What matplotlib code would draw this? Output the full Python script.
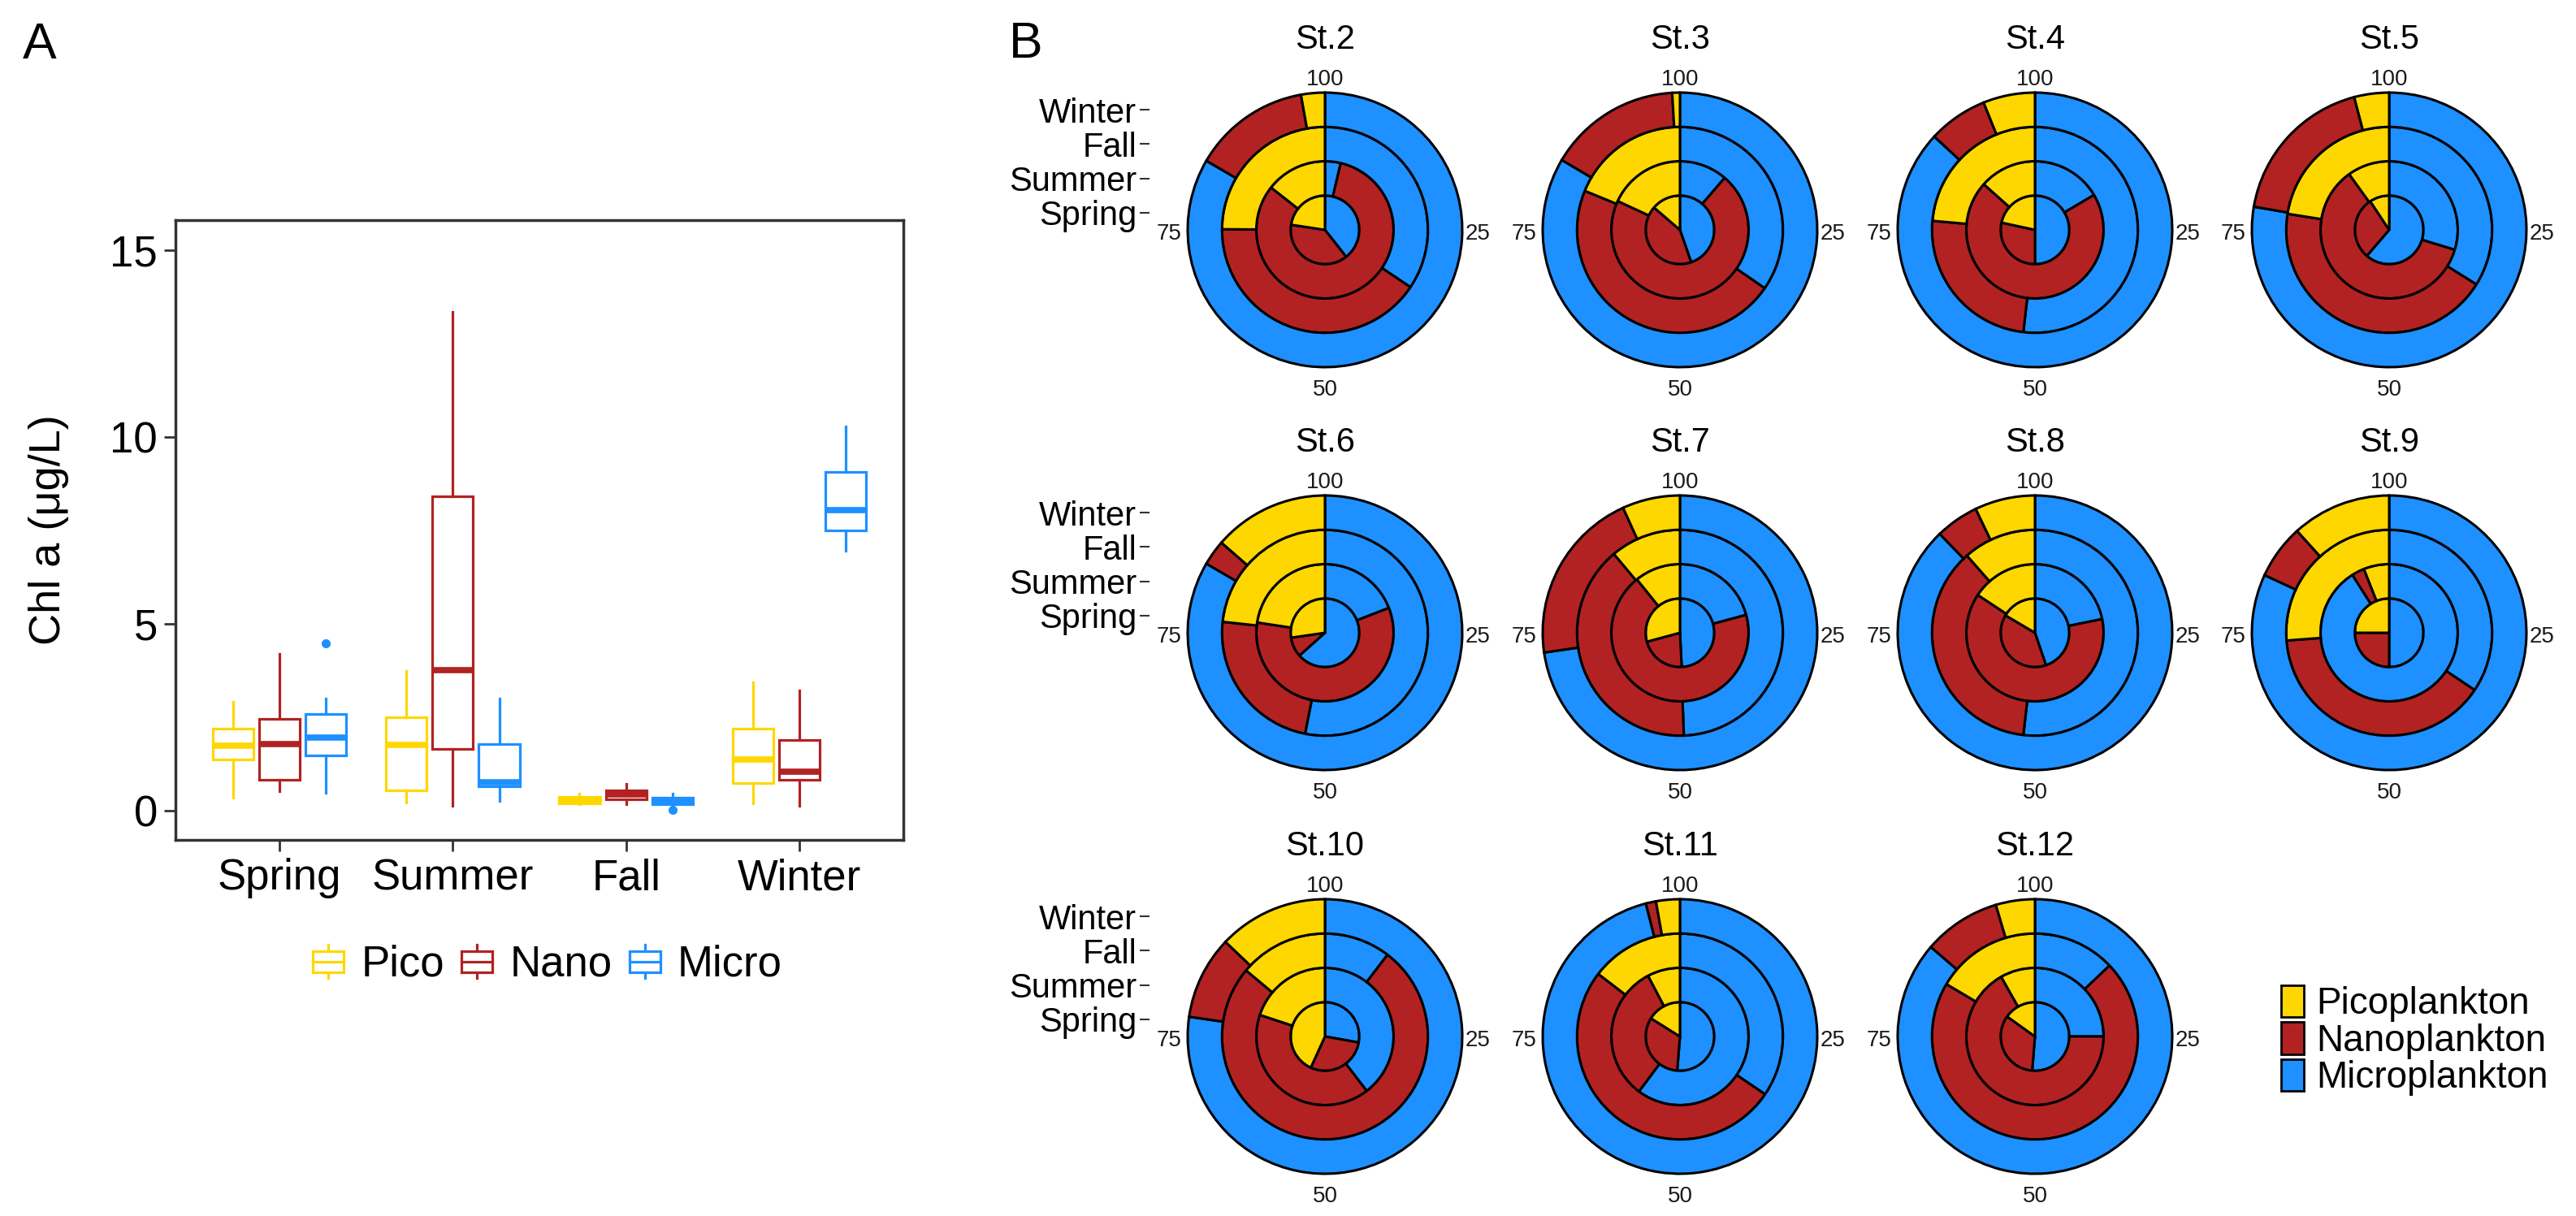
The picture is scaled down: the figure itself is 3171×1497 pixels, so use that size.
import matplotlib
matplotlib.use("Agg")
import matplotlib.pyplot as plt
from matplotlib.patches import Patch, Rectangle
from matplotlib.lines import Line2D
from matplotlib.legend_handler import HandlerBase

plt.rcParams['font.family'] = ['Liberation Sans', 'DejaVu Sans']

# ---------------- data: panel A (box statistics, Chl a ug/L) ----------------
box_seasons = ["Spring", "Summer", "Fall", "Winter"]
box_groups = ["Pico", "Nano", "Micro"]

pico_whislo = [0.36, 0.22, 0.18, 0.20]
pico_q1     = [1.38, 0.55, 0.20, 0.75]
pico_med    = [1.74, 1.77, 0.27, 1.38]
pico_q3     = [2.20, 2.51, 0.38, 2.20]
pico_whishi = [2.91, 3.75, 0.45, 3.44]
pico_fliers = [[], [], [], []]

nano_whislo = [0.53, 0.14, 0.18, 0.14]
nano_q1     = [0.82, 1.66, 0.31, 0.82]
nano_med    = [1.79, 3.77, 0.44, 1.05]
nano_q3     = [2.45, 8.41, 0.55, 1.90]
nano_whishi = [4.19, 13.35, 0.73, 3.22]
nano_fliers = [[], [], [], []]

micro_whislo = [0.47, 0.27, 0.08, 6.95]
micro_q1     = [1.48, 0.66, 0.18, 7.50]
micro_med    = [1.96, 0.77, 0.25, 8.04]
micro_q3     = [2.59, 1.79, 0.34, 9.06]
micro_whishi = [3.00, 3.00, 0.45, 10.28]
micro_fliers = [[4.48], [], [0.02], []]

# ---------------- data: panel B (% of Chl a per size class) ----------------
stations = ["St.2", "St.3", "St.4", "St.5", "St.6", "St.7", "St.8", "St.9",
            "St.10", "St.11", "St.12"]
ring_seasons = ["Spring", "Summer", "Fall", "Winter"]   # inner -> outer
# each row: [Spring, Summer, Fall, Winter]
micro_pct = [
    [39.4, 3.7, 34.4, 83.4],
    [44.7, 11.3, 34.6, 83.5],
    [50.0, 16.5, 51.8, 86.9],
    [61.3, 29.7, 33.9, 77.7],
    [63.4, 19.1, 53.1, 83.4],
    [49.2, 20.8, 49.4, 72.7],
    [44.8, 21.8, 51.8, 87.8],
    [50.0, 91.0, 34.4, 81.9],
    [27.8, 39.6, 10.4, 77.3],
    [51.3, 60.2, 34.5, 96.0],
    [51.3, 25.0, 12.9, 86.3],
]
nano_pct = [
    [38.0, 81.9, 40.7, 13.8],
    [41.6, 70.6, 46.6, 15.6],
    [28.4, 70.1, 24.6, 7.0],
    [29.4, 60.4, 43.6, 18.2],
    [9.3, 58.3, 23.6, 3.0],
    [21.6, 68.4, 39.5, 20.5],
    [38.7, 62.5, 36.7, 5.1],
    [25.0, 3.0, 39.4, 6.4],
    [29.0, 40.5, 75.7, 9.8],
    [32.6, 32.1, 50.9, 1.2],
    [33.6, 66.8, 70.6, 9.1],
]
pico_pct = [
    [22.6, 14.4, 24.9, 2.8],
    [13.7, 18.1, 18.8, 0.9],
    [21.6, 13.4, 23.6, 6.1],
    [9.3, 9.9, 22.5, 4.1],
    [27.3, 22.6, 23.3, 13.6],
    [29.2, 10.8, 11.1, 6.8],
    [16.5, 15.7, 11.5, 7.1],
    [25.0, 6.0, 26.2, 11.7],
    [43.2, 19.9, 13.9, 12.9],
    [16.1, 7.7, 14.6, 2.8],
    [15.1, 8.2, 16.5, 4.6],
]
theta_labels = ["100", "25", "50", "75"]
legend_labels = ["Picoplankton", "Nanoplankton", "Microplankton"]

# ---------------- style ----------------
C_PICO = "#FFD700"
C_NANO = "#B22222"
C_MICRO = "#1E90FF"
FW, FH = 3171, 1497

fig = plt.figure(figsize=(FW / 100, FH / 100), dpi=100)

# ================= Panel A =================
axA = fig.add_axes([216 / FW, 1 - 1034 / FH, (1112 - 216) / FW, (1034 - 271) / FH])
group_data = [
    (C_PICO, pico_whislo, pico_q1, pico_med, pico_q3, pico_whishi, pico_fliers),
    (C_NANO, nano_whislo, nano_q1, nano_med, nano_q3, nano_whishi, nano_fliers),
    (C_MICRO, micro_whislo, micro_q1, micro_med, micro_q3, micro_whishi, micro_fliers),
]
offsets = [-0.268, 0.0, 0.268]
for gi, (col, wl, q1, med, q3, wh, fl) in enumerate(group_data):
    stats = []
    for si in range(len(box_seasons)):
        stats.append(dict(whislo=wl[si], q1=q1[si], med=med[si], q3=q3[si],
                          whishi=wh[si], fliers=fl[si]))
    pos = [si + 1 + offsets[gi] for si in range(len(box_seasons))]
    axA.bxp(stats, positions=pos, widths=0.235, showcaps=False, patch_artist=True,
            boxprops=dict(facecolor="white", edgecolor=col, linewidth=2.3),
            whiskerprops=dict(color=col, linewidth=2.3),
            medianprops=dict(color=col, linewidth=5.5, solid_capstyle="butt"),
            flierprops=dict(marker="o", markerfacecolor=col, markeredgecolor=col,
                            markersize=7))
axA.set_xlim(0.4, 4.6)
axA.set_ylim(-0.78, 15.8)
axA.set_xticks([1, 2, 3, 4])
axA.set_xticklabels(box_seasons)
axA.set_yticks([0, 5, 10, 15])
axA.set_yticklabels(["0", "5", "10", "15"])
axA.tick_params(axis="both", labelsize=38, length=10, width=2, color="#333333",
                labelcolor="black")
axA.tick_params(axis="x", pad=6)
axA.tick_params(axis="y", pad=6)
for sp in axA.spines.values():
    sp.set_linewidth(2.5)
    sp.set_color("#333333")
fig.text(60 / FW, 1 - 652 / FH, "Chl a (μg/L)", rotation=90, ha="center",
         va="center", fontsize=39)
fig.text(28 / FW, 1 - 72 / FH, "A", ha="left", va="baseline", fontsize=45)


class BoxKey(HandlerBase):
    def create_artists(self, legend, orig_handle, xdescent, ydescent, width,
                       height, fontsize, trans):
        c = orig_handle.get_edgecolor()
        x0, y0 = -xdescent, -ydescent
        cx = x0 + width / 2
        wl = Line2D([cx, cx], [y0, y0 + height], color=c, lw=2.3, transform=trans)
        r = Rectangle((x0, y0 + 0.18 * height), width, 0.64 * height,
                      facecolor="white", edgecolor=c, lw=2.3, transform=trans)
        m = Line2D([x0, x0 + width], [y0 + 0.5 * height] * 2, color=c, lw=2.3,
                   transform=trans)
        return [wl, r, m]


proxies = [Patch(facecolor="white", edgecolor=c) for c in (C_PICO, C_NANO, C_MICRO)]
fig.legend(proxies, box_groups, handler_map={Patch: BoxKey()}, loc="center",
           bbox_to_anchor=(674 / FW, 1 - 1188 / FH), ncol=3, frameon=False,
           fontsize=38, handlelength=0.72, handleheight=0.8, handletextpad=0.4,
           columnspacing=0.4, borderpad=0, borderaxespad=0)

# ================= Panel B =================
fig.text(1242 / FW, 1 - 71 / FH, "B", ha="left", va="baseline", fontsize=45)

col_x = [1631, 2068, 2505, 2941]
row_y = [283, 779, 1276]
PX_PER_UNIT = 42.25
L = 5.11
W = 2 * L * PX_PER_UNIT
for k, st in enumerate(stations):
    r_i, c_i = divmod(k, 4)
    cx, cy = col_x[c_i], row_y[r_i]
    ax = fig.add_axes([(cx - W / 2) / FW, 1 - (cy + W / 2) / FH, W / FW, W / FH])
    for i in range(len(ring_seasons)):
        vals = [micro_pct[k][i], nano_pct[k][i], pico_pct[k][i]]
        wp = dict(edgecolor="black", linewidth=2.2)
        if i > 0:
            wp["width"] = 1.0
        ax.pie(vals, radius=i + 1, colors=[C_MICRO, C_NANO, C_PICO], startangle=90,
               counterclock=False, wedgeprops=wp)
    ax.set_xlim(-L, L)
    ax.set_ylim(-L, L)
    ax.set_aspect("equal")
    ax.set_frame_on(False)
    ax.set_xticks([])
    if c_i == 0:
        ax.set_yticks([0.5, 1.5, 2.5, 3.5])
        ax.set_yticklabels(ring_seasons)
        ax.tick_params(axis="y", labelsize=30, length=8.5, width=1.5,
                       color="#333333", pad=3)
    else:
        ax.set_yticks([])
    tkw = dict(fontsize=20, color="#1a1a1a", va="baseline")
    ax.text(0, 4.22, theta_labels[0], ha="center", **tkw)
    ax.text(4.09, -0.29, theta_labels[1], ha="left", **tkw)
    ax.text(0, -4.84, theta_labels[2], ha="center", **tkw)
    ax.text(-4.17, -0.29, theta_labels[3], ha="right", **tkw)
    ax.text(0, 5.28, st, ha="center", va="baseline", fontsize=30)

leg_handles = [Patch(facecolor=c, edgecolor="black", linewidth=2)
               for c in (C_PICO, C_NANO, C_MICRO)]
fig.legend(leg_handles, legend_labels, loc="center left",
           bbox_to_anchor=(2808 / FW, 1 - 1281 / FH), frameon=False, fontsize=33,
           handlelength=0.6, handleheight=0.95, labelspacing=0.0,
           handletextpad=0.35, borderpad=0, borderaxespad=0)

fig.savefig("out.png", dpi=100)
